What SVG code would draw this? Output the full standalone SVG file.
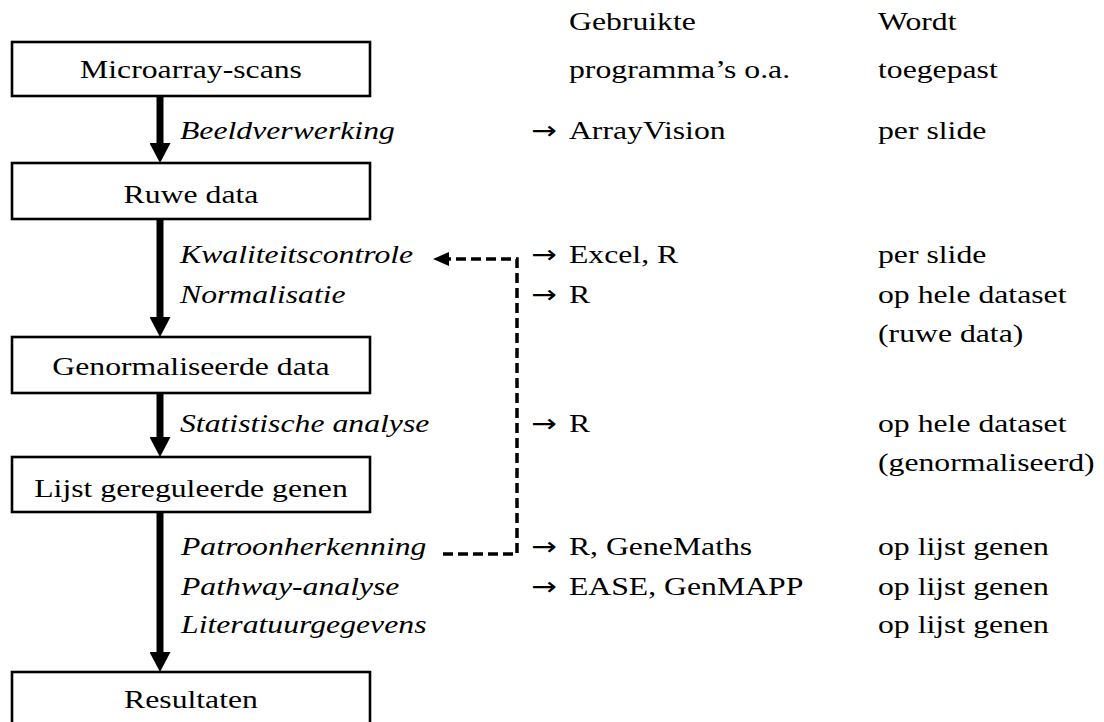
<svg xmlns="http://www.w3.org/2000/svg" width="1104" height="722" viewBox="0 0 1104 722">
<style>
.t{font-family:"Liberation Serif","Times New Roman",serif;font-size:26px;fill:#000}
.i{font-style:italic}
.c{text-anchor:middle}
.ar{font-family:"DejaVu Sans",sans-serif;font-size:25px}
.box{fill:#fff;stroke:#000;stroke-width:2.6}
.flow{stroke:#000;stroke-width:7;fill:none}
.dash{stroke:#000;stroke-width:3.5;fill:none;stroke-dasharray:10 5}
</style>
<defs>
<marker id="head" markerUnits="userSpaceOnUse" markerWidth="21" markerHeight="21" refX="0" refY="10.5" orient="auto" viewBox="0 0 21 21">
<path d="M0,0 L20,10.5 L0,21 Z" fill="#000"/>
</marker>
<marker id="dhead" markerUnits="userSpaceOnUse" markerWidth="16" markerHeight="14" refX="0" refY="7" orient="auto" viewBox="0 0 16 14">
<path d="M0,0 L16,7 L0,14 Z" fill="#000"/>
</marker>
</defs>
<rect width="1104" height="722" fill="#fff"/>

<g id="connectors">
<line class="flow" x1="160" y1="96" x2="160" y2="143" marker-end="url(#head)"/>
<line class="flow" x1="160" y1="219" x2="160" y2="317" marker-end="url(#head)"/>
<line class="flow" x1="160" y1="393" x2="160" y2="437" marker-end="url(#head)"/>
<line class="flow" x1="160" y1="512" x2="160" y2="652" marker-end="url(#head)"/>
<path class="dash" d="M443,554 H517 V259 H449" marker-end="url(#dhead)"/>
</g>

<g id="node-microarray">
<rect class="box" x="12" y="42" width="358" height="54"/>
<text class="t c" transform="translate(191 78) scale(1.22 1)">Microarray-scans</text>
</g>
<g id="node-ruwe">
<rect class="box" x="12" y="163" width="358" height="56"/>
<text class="t c" transform="translate(191 203) scale(1.22 1)">Ruwe data</text>
</g>
<g id="node-genorm">
<rect class="box" x="12" y="337" width="358" height="56"/>
<text class="t c" transform="translate(191 375) scale(1.22 1)">Genormaliseerde data</text>
</g>
<g id="node-lijst">
<rect class="box" x="12" y="457" width="358" height="55"/>
<text class="t c" transform="translate(191 497) scale(1.22 1)">Lijst gereguleerde genen</text>
</g>
<g id="node-resultaten">
<rect class="box" x="12" y="672" width="358" height="60"/>
<text class="t c" transform="translate(191 708) scale(1.22 1)">Resultaten</text>
</g>

<g id="steps">
<text class="t i" transform="translate(180 139) scale(1.22 1)">Beeldverwerking</text>
<text class="t i" transform="translate(180 263) scale(1.22 1)">Kwaliteitscontrole</text>
<text class="t i" transform="translate(180 303) scale(1.22 1)">Normalisatie</text>
<text class="t i" transform="translate(180 432) scale(1.22 1)">Statistische analyse</text>
<text class="t i" transform="translate(181 555) scale(1.22 1)">Patroonherkenning</text>
<text class="t i" transform="translate(181 595) scale(1.22 1)">Pathway-analyse</text>
<text class="t i" transform="translate(181 633) scale(1.22 1)">Literatuurgegevens</text>
</g>

<g id="programs">
<text class="t" transform="translate(569 30) scale(1.22 1)">Gebruikte</text>
<text class="t" transform="translate(569 78) scale(1.22 1)">programma’s o.a.</text>
<text class="t" transform="translate(531 139) scale(1.22 1)"><tspan class="ar">→</tspan><tspan x="31.1">ArrayVision</tspan></text>
<text class="t" transform="translate(531 263) scale(1.22 1)"><tspan class="ar">→</tspan><tspan x="31.1">Excel, R</tspan></text>
<text class="t" transform="translate(531 303) scale(1.22 1)"><tspan class="ar">→</tspan><tspan x="31.1">R</tspan></text>
<text class="t" transform="translate(531 432) scale(1.22 1)"><tspan class="ar">→</tspan><tspan x="31.1">R</tspan></text>
<text class="t" transform="translate(531 555) scale(1.22 1)"><tspan class="ar">→</tspan><tspan x="31.1">R, GeneMaths</tspan></text>
<text class="t" transform="translate(531 595) scale(1.22 1)"><tspan class="ar">→</tspan><tspan x="31.1">EASE, GenMAPP</tspan></text>
</g>

<g id="applied">
<text class="t" transform="translate(878 30) scale(1.22 1)">Wordt</text>
<text class="t" transform="translate(878 78) scale(1.22 1)">toegepast</text>
<text class="t" transform="translate(878 139) scale(1.22 1)">per slide</text>
<text class="t" transform="translate(878 263) scale(1.22 1)">per slide</text>
<text class="t" transform="translate(878 303) scale(1.22 1)">op hele dataset</text>
<text class="t" transform="translate(878 342) scale(1.22 1)">(ruwe data)</text>
<text class="t" transform="translate(878 432) scale(1.22 1)">op hele dataset</text>
<text class="t" transform="translate(878 471) scale(1.22 1)">(genormaliseerd)</text>
<text class="t" transform="translate(878 555) scale(1.22 1)">op lijst genen</text>
<text class="t" transform="translate(878 595) scale(1.22 1)">op lijst genen</text>
<text class="t" transform="translate(878 633) scale(1.22 1)">op lijst genen</text>
</g>
</svg>
